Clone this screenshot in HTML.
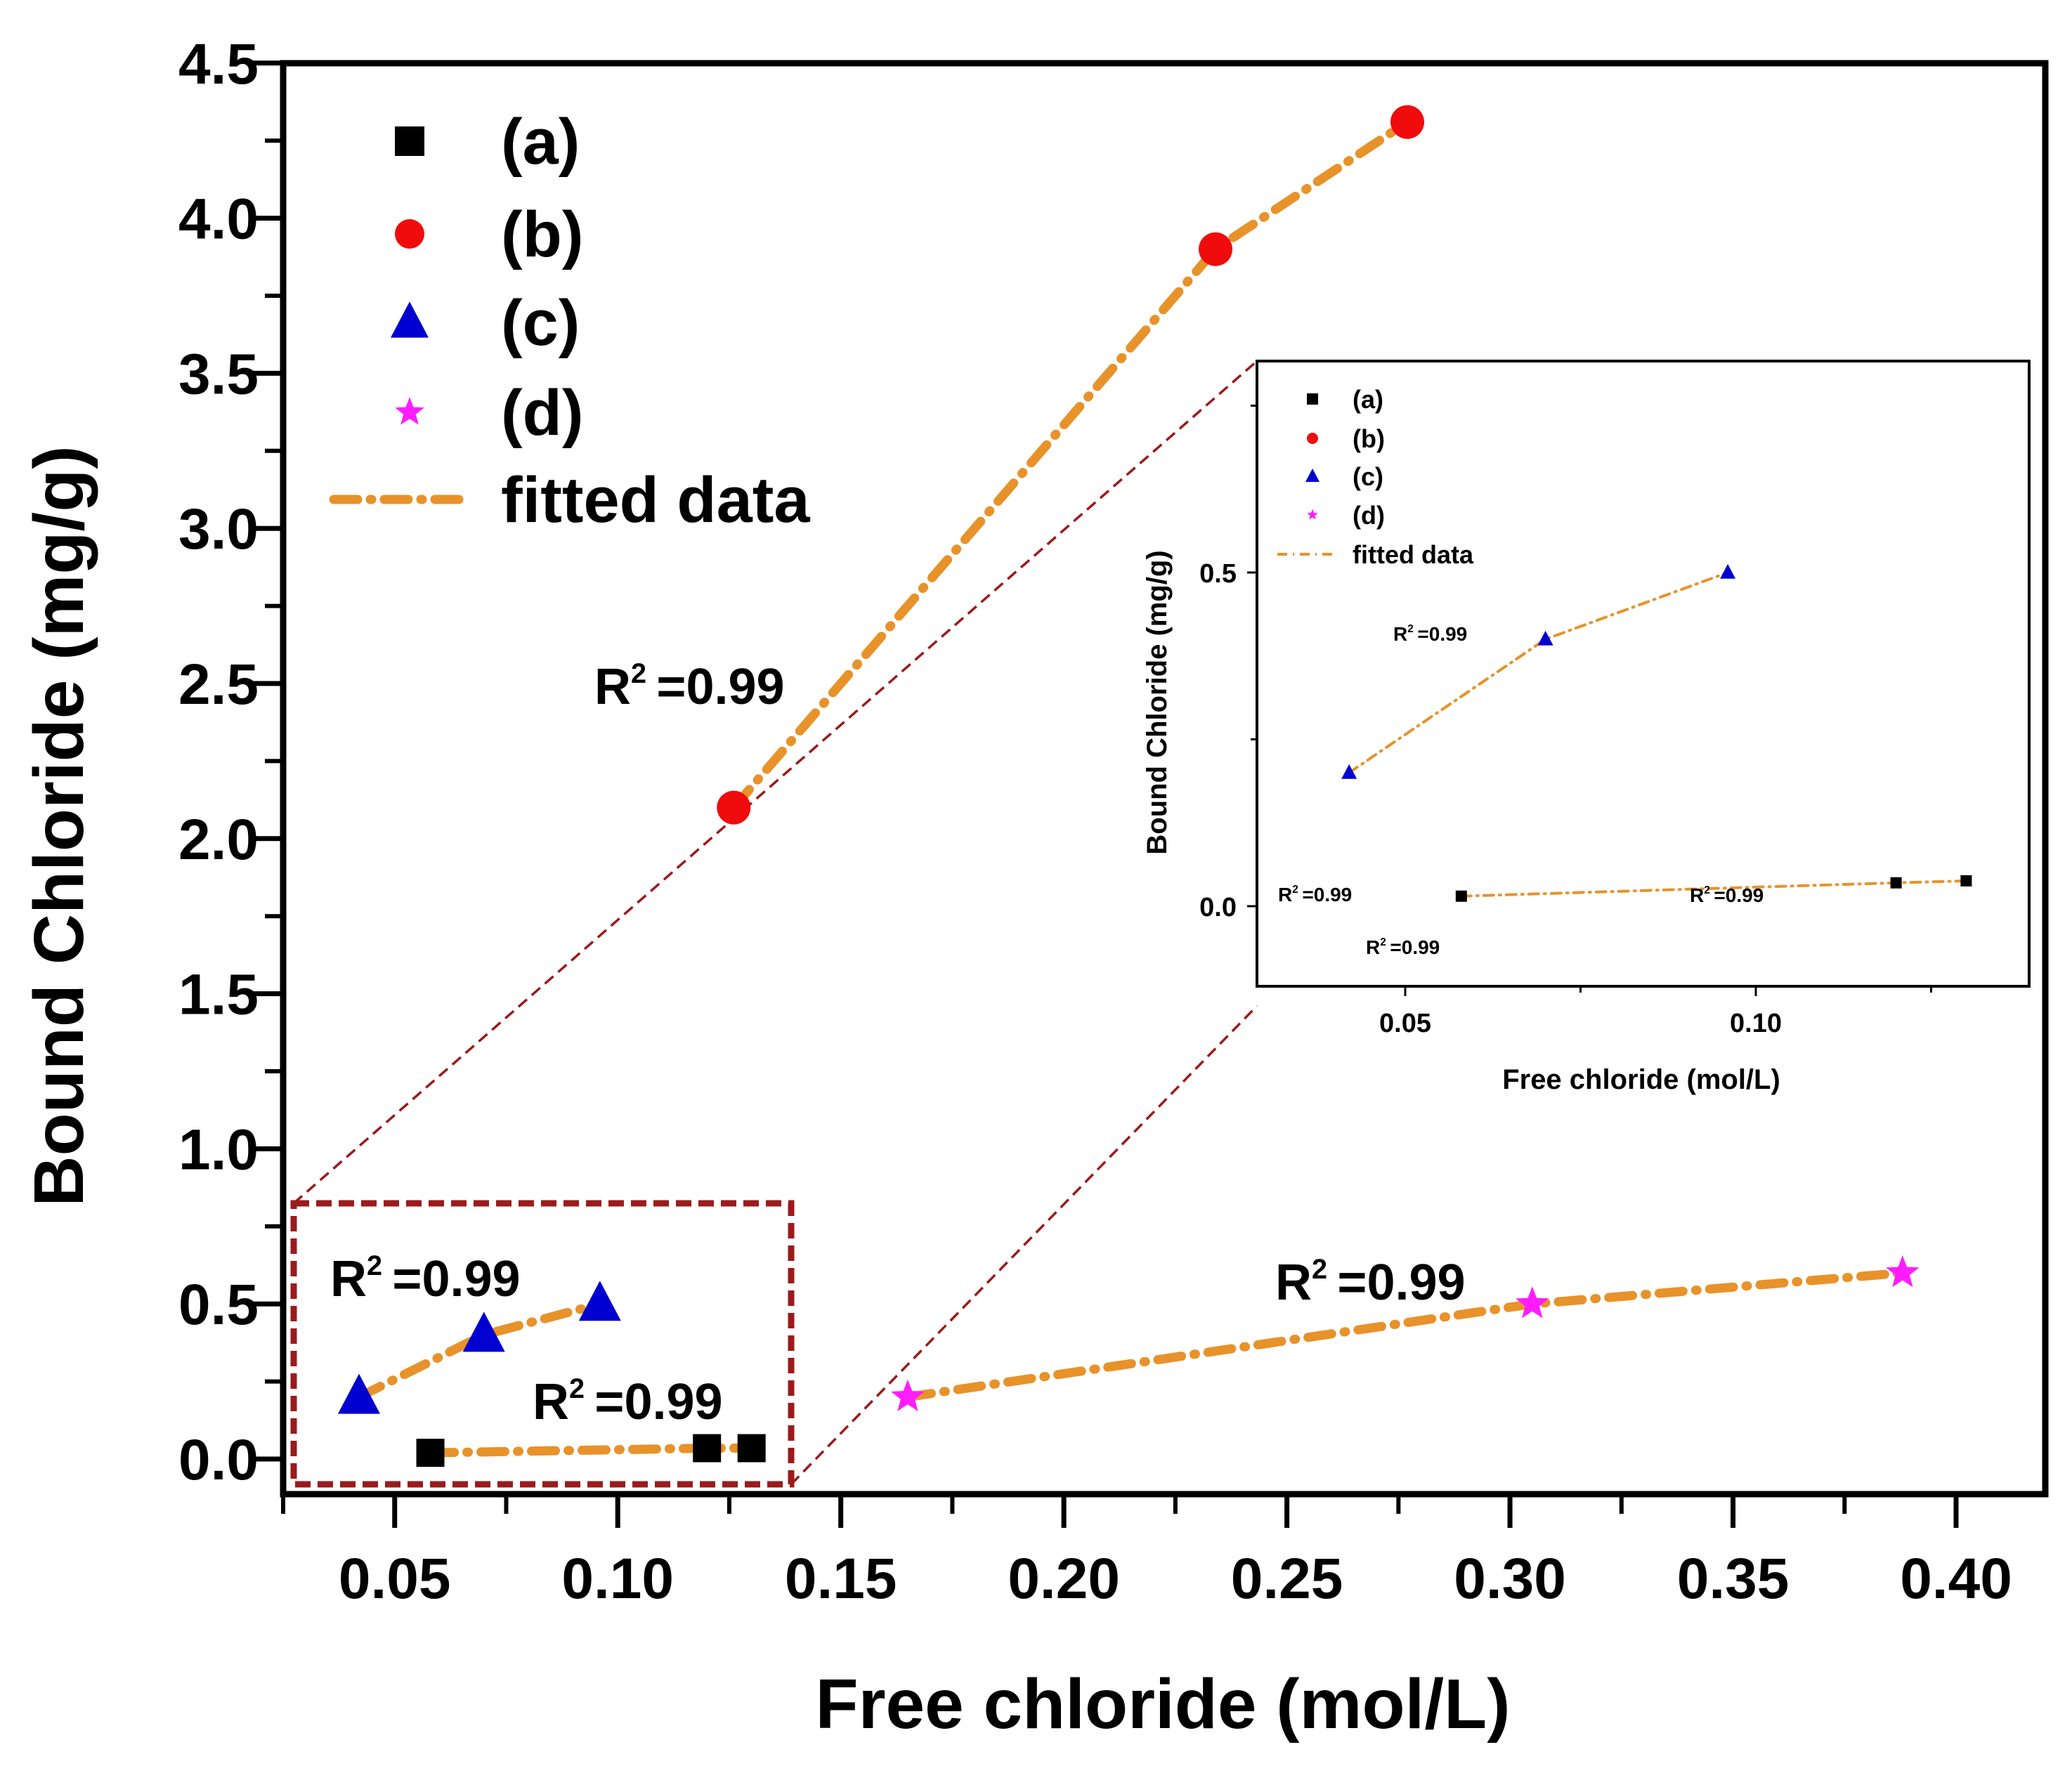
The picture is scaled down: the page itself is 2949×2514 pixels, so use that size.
<!DOCTYPE html>
<html><head><meta charset="utf-8"><style>
html,body{margin:0;padding:0;background:#fff;}
svg{display:block;font-family:"Liberation Sans",Arial,sans-serif;font-weight:bold;}
</style></head><body>
<svg id="chart" width="2949" height="2514" viewBox="0 0 2949 2514" xmlns="http://www.w3.org/2000/svg">
<g id="main"></g>
<g id="inset"></g>
</svg>
<script>
// ---- data ----
const seriesNames = ['(a)','(b)','(c)','(d)'];
const aX = [0.058, 0.120, 0.130];
const aY = [0.02, 0.035, 0.035];
const bX = [0.126, 0.234, 0.277];
const bY = [2.1, 3.9, 4.31];
const cX = [0.042, 0.070, 0.096];
const cY = [0.2, 0.4, 0.5];
const dX = [0.165, 0.305, 0.388];
const dY = [0.2, 0.5, 0.6];
const xTicks = [0.05,0.10,0.15,0.20,0.25,0.30,0.35,0.40];
const xTickLabels = ['0.05','0.10','0.15','0.20','0.25','0.30','0.35','0.40'];
const yTicks = [0,0.5,1,1.5,2,2.5,3,3.5,4,4.5];
const yTickLabels = ['0.0','0.5','1.0','1.5','2.0','2.5','3.0','3.5','4.0','4.5'];
// inset data
const iaX = [0.058, 0.120, 0.130];
const iaY = [0.015, 0.035, 0.038];
const icX = [0.042, 0.070, 0.096];
const icY = [0.2, 0.4, 0.5];
const ixTicks = [0.05, 0.10];
const ixTickLabels = ['0.05','0.10'];
const iyTicks = [0, 0.5];
const iyTickLabels = ['0.0','0.5'];

const NS='http://www.w3.org/2000/svg';
function mk(parent, tag, attrs, text){
  const e=document.createElementNS(NS,tag);
  for(const k in attrs) e.setAttribute(k,attrs[k]);
  if(text!==undefined) e.textContent=text;
  parent.appendChild(e); return e;
}
const ORANGE='#e8922a', DRED='#9b1b1b';

// ---- main axes ----
const X0=0.025, X1=0.42;
const PL=403, PR=2911, PT=90, PB=2127;
const xs=v=>PL+(v-X0)/(X1-X0)*(PR-PL);
const ys=v=>2077-v*441.6;
const main=document.getElementById('main');

let fr=mk(main,'rect',{x:PL,y:PT,width:PR-PL,height:PB-PT,fill:'none',stroke:'#000','stroke-width':9});



for(let i=0;i<xTicks.length;i++){
  const x=xs(xTicks[i]);
  let t=mk(main,'line',{x1:x,y1:PB,x2:x,y2:PB+48,stroke:'#000','stroke-width':7});
  
  
  let l=mk(main,'text',{x:x,y:2275,'font-size':82,'text-anchor':'middle'},xTickLabels[i]);
  
  
  const mx=xs(xTicks[i]-0.025);
  let m=mk(main,'line',{x1:mx,y1:PB,x2:mx,y2:PB+28,stroke:'#000','stroke-width':6});
  
  
}
for(let i=0;i<yTicks.length;i++){
  const y=ys(yTicks[i]);
  let t=mk(main,'line',{x1:PL-44,y1:y,x2:PL,y2:y,stroke:'#000','stroke-width':7});
  
  
  let l=mk(main,'text',{x:368,y:y+29,'font-size':82,'text-anchor':'end'},yTickLabels[i]);
  
  
  if(i<yTicks.length-1){
    const my=ys(yTicks[i]+0.25);
    let m=mk(main,'line',{x1:PL-26,y1:my,x2:PL,y2:my,stroke:'#000','stroke-width':6});
    
    
  }
}
let xt=mk(main,'text',{x:1655,y:2460,'font-size':100,'text-anchor':'middle'},'Free chloride (mol/L)');


let yt=mk(main,'text',{x:0,y:0,'font-size':100,'text-anchor':'middle',transform:'translate(118,1176) rotate(-90)'},'Bound Chloride (mg/g)');



let zb=mk(main,'rect',{x:418,y:1713,width:708,height:400,fill:'none',stroke:DRED,'stroke-width':9,'stroke-dasharray':'22 10'});


let z1=mk(main,'line',{x1:418,y1:1713,x2:1789,y2:514,stroke:DRED,'stroke-width':3.5,'stroke-dasharray':'16 9'});


let z2=mk(main,'line',{x1:1126,y1:2113,x2:1789,y2:1432,stroke:DRED,'stroke-width':3.5,'stroke-dasharray':'16 9'});



function fitLine(g,X,Y,sx,sy,w,dash,name){
  let p=X.map((v,i)=>sx(v)+','+sy(Y[i])).join(' ');
  let e=mk(g,'polyline',{points:p,fill:'none',stroke:ORANGE,'stroke-width':w,'stroke-linecap':'round','stroke-dasharray':dash});
  
  
}
function marker(g,type,x,y,s,name){
  let e;
  if(type==='sq') e=mk(g,'rect',{x:x-s/2,y:y-s/2,width:s,height:s,fill:'#000'});
  else if(type==='ci') e=mk(g,'circle',{cx:x,cy:y,r:s/2,fill:'#f00c0c'});
  else if(type==='tr') e=mk(g,'polygon',{points:`${x},${y-s*0.55} ${x-s/2},${y+s*0.4} ${x+s/2},${y+s*0.4}`,fill:'#0000d0'});
  else {
    let pts=[];for(let k=0;k<10;k++){const r=k%2?s*0.22:s*0.52;const a=-Math.PI/2+k*Math.PI/5;pts.push((x+r*Math.cos(a))+','+(y+r*Math.sin(a)));}
    e=mk(g,'polygon',{points:pts.join(' '),fill:'#ff1cff'});
  }
  
  
}
const MD='34 18 2 18';
fitLine(main,aX,aY,xs,ys,13,MD,'fit-line-a');
fitLine(main,bX,bY,xs,ys,13,MD,'fit-line-b');
fitLine(main,cX,cY,xs,ys,13,MD,'fit-line-c');
fitLine(main,dX,dY,xs,ys,13,MD,'fit-line-d');
aX.forEach((v,i)=>marker(main,'sq',xs(v),ys(aY[i]),40,'point-a'));
bX.forEach((v,i)=>marker(main,'ci',xs(v),ys(bY[i]),48,'point-b'));
cX.forEach((v,i)=>marker(main,'tr',xs(v),ys(cY[i]),60,'point-c'));
dX.forEach((v,i)=>marker(main,'st',xs(v),ys(dY[i]),48,'point-d'));

function r2(g,x,y,fs,name){
  let t=mk(g,'text',{x:x,y:y,'font-size':fs});
  
  
  mk(t,'tspan',{},'R');
  mk(t,'tspan',{dy:-fs*0.42,'font-size':fs*0.55},'2');
  mk(t,'tspan',{dy:fs*0.42,dx:fs*0.2},'=0.99');
}
r2(main,846,1002,72,'r2-label-b');
r2(main,470,1845,72,'r2-label-c');
r2(main,758,2020,72,'r2-label-a');
r2(main,1815,1850,72,'r2-label-d');

const legTypes=['sq','ci','tr','st'];
const legY=[201,333,459,587];
for(let i=0;i<4;i++){
  marker(main,legTypes[i],583,legY[i],i===2?54:42,'legend-marker');
  let t=mk(main,'text',{x:713,y:legY[i]+32,'font-size':92},seriesNames[i]);
  
  
}
let ll=mk(main,'line',{x1:475,y1:711,x2:655,y2:711,stroke:ORANGE,'stroke-width':13,'stroke-linecap':'round','stroke-dasharray':'34 18 2 18'});


let lt=mk(main,'text',{x:713,y:743,'font-size':92},'fitted data');



// ---- inset ----
const ins=document.getElementById('inset');
const IL=1789, IR=2888, IT=514, IB=1404;
const ixs=v=>2000+(v-0.05)/0.05*499;
const iys=v=>1290-v*950;
let bg=mk(ins,'rect',{x:IL,y:IT,width:IR-IL,height:IB-IT,fill:'#fff',stroke:'#000','stroke-width':4});


for(let i=0;i<ixTicks.length;i++){
  const x=ixs(ixTicks[i]);
  let t=mk(ins,'line',{x1:x,y1:IB,x2:x,y2:IB+14,stroke:'#000','stroke-width':3});
  
  
  let l=mk(ins,'text',{x:x,y:1469,'font-size':38,'text-anchor':'middle'},ixTickLabels[i]);
  
  
  const mx=ixs(ixTicks[i]+0.025);
  let m=mk(ins,'line',{x1:mx,y1:IB,x2:mx,y2:IB+9,stroke:'#000','stroke-width':3});
  
  
}
for(let i=0;i<iyTicks.length;i++){
  const y=iys(iyTicks[i]);
  let t=mk(ins,'line',{x1:IL-14,y1:y,x2:IL,y2:y,stroke:'#000','stroke-width':3});
  
  
  let l=mk(ins,'text',{x:1760,y:y+14,'font-size':38,'text-anchor':'end'},iyTickLabels[i]);
  
  
  const my=iys(iyTicks[i]+0.25);
  let m=mk(ins,'line',{x1:IL-9,y1:my,x2:IL,y2:my,stroke:'#000','stroke-width':3});
  
  
}
let ixt=mk(ins,'text',{x:2336,y:1550,'font-size':40,'text-anchor':'middle'},'Free chloride (mol/L)');


let iyt=mk(ins,'text',{x:0,y:0,'font-size':40,'text-anchor':'middle',transform:'translate(1660,1000) rotate(-90)'},'Bound Chloride (mg/g)');


const ID='14 8 2 8';
fitLine(ins,iaX,iaY,ixs,iys,4,ID,'inset-fit-line-a');
fitLine(ins,icX,icY,ixs,iys,4,ID,'inset-fit-line-c');
iaX.forEach((v,i)=>marker(ins,'sq',ixs(v),iys(iaY[i]),16,'inset-point-a'));
icX.forEach((v,i)=>marker(ins,'tr',ixs(v),iys(icY[i]),22,'inset-point-c'));
r2(ins,1983,912,28,'inset-r2-label-c');
r2(ins,1819,1283,28,'inset-r2-label');
r2(ins,1944,1358,28,'inset-r2-label');
r2(ins,2405,1284,28,'inset-r2-label-a');
const iLegY=[568,624,678,733];
for(let i=0;i<4;i++){
  marker(ins,legTypes[i],1868,iLegY[i],i===2?20:16,'inset-legend-marker');
  let t=mk(ins,'text',{x:1925,y:iLegY[i]+13,'font-size':36},seriesNames[i]);
  
  
}
let ill=mk(ins,'line',{x1:1818,y1:789,x2:1900,y2:789,stroke:ORANGE,'stroke-width':4,'stroke-dasharray':'14 8 2 8'});


let ilt=mk(ins,'text',{x:1925,y:802,'font-size':36},'fitted data');


</script>
</body></html>
